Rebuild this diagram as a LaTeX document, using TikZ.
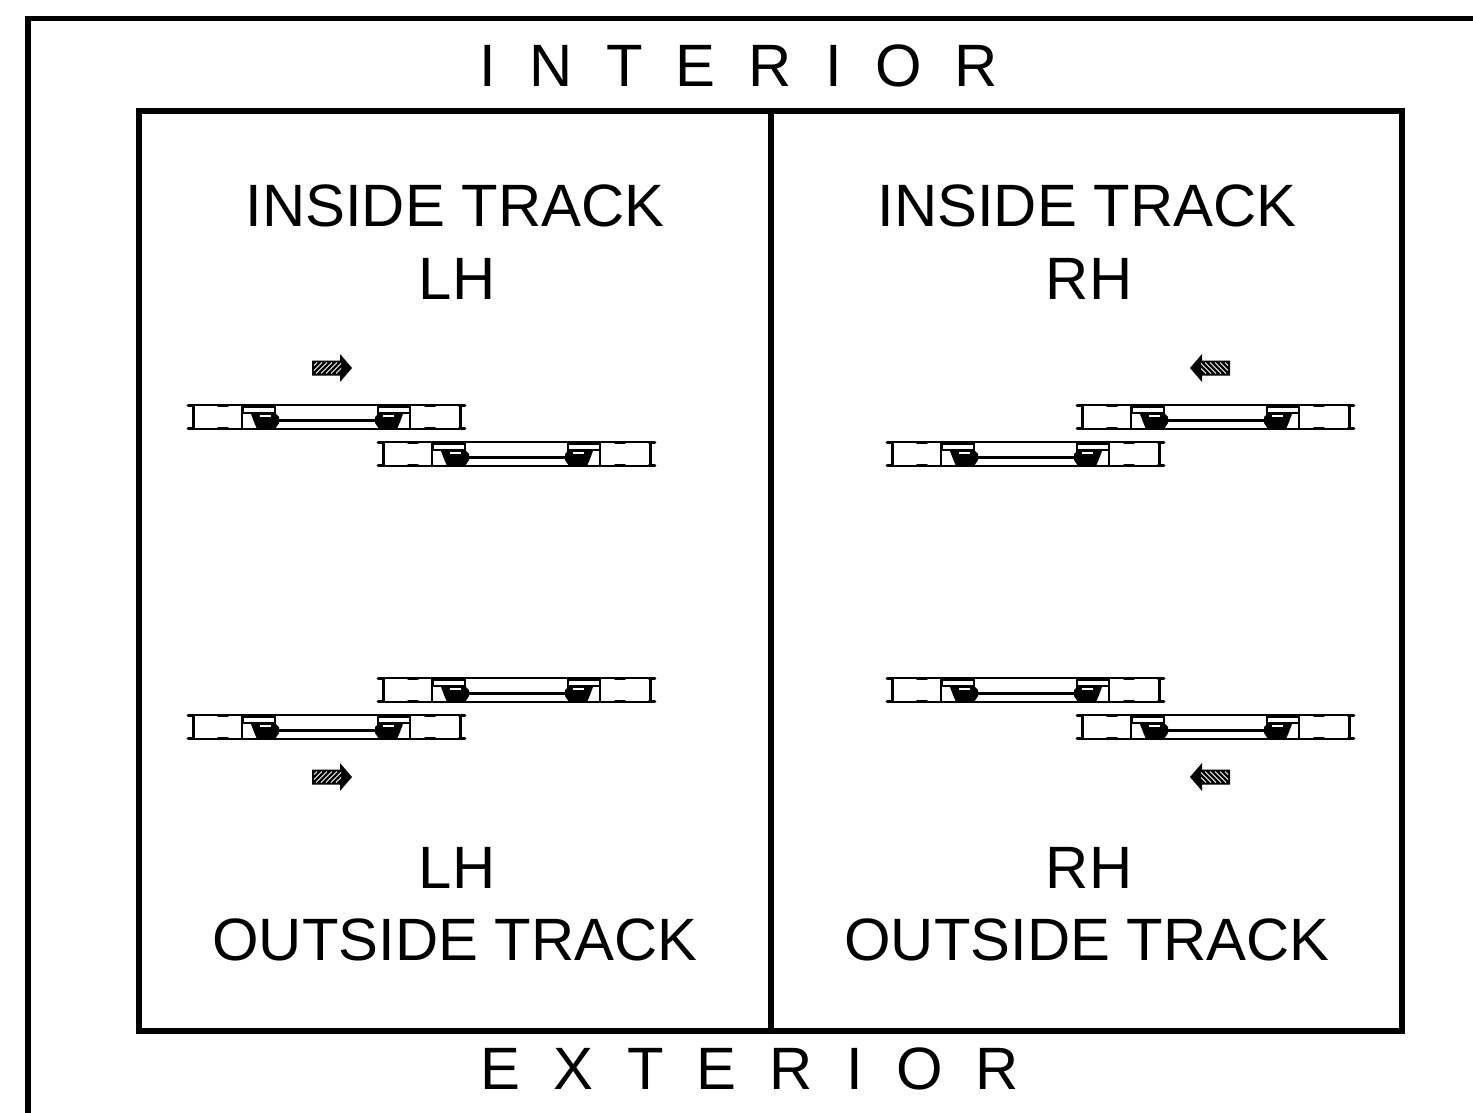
\documentclass[tikz,border=0pt]{standalone}
\usepackage{fontspec}
\setmainfont{Liberation Sans}
\tikzset{
frameline/.style={line width=2.8pt,line cap=rect},
label/.style={anchor=base,inner sep=0pt,font=\fontsize{29.9}{34}\selectfont},
panethin/.style={line width=.6pt},
panethick/.style={line width=.95pt},
pane/.pic={
  % flanges of the frame
  \draw[panethick] (0,0) -- (277,0) (0,24) -- (277,24);
  % the end webs and inner webs
  \draw[line width=1.5pt] (5,0) -- (5,24) (272,0) -- (272,24);
  \draw[line width=.9pt] (54,0) -- (54,24) (222,0) -- (222,24);
  \draw[line width=.9pt] (87,0) -- (87,10) (190,0) -- (190,10);
  % bumps on the flanges
  \foreach \bx/\blen in {0/6,30/10,237/10,271/6} {
    \draw[line width=1.4pt,line cap=round] (\bx,.4) -- ++(\blen,0) (\bx,23.6) -- ++(\blen,0);
  }
  % the small compartments
  \draw[panethin] (55,2) rectangle (87,8);
  \draw[panethin] (190,2) rectangle (222,8);
  % the rollers
  \foreach \rx/\dir in {63/1,215/-1} {
    \begin{scope}[shift={(\rx,0)},xscale=\dir]
      \fill (0,9) -- (24,8) -- (28,12) -- (28,18) -- (24,24) -- (6,24) -- (3,17) -- cycle;
      \fill[white] (9,10) rectangle (20,12);
    \end{scope}
  }
  % the glass between
  \draw[line width=1.5pt] (89,15) -- (188,15);
},
movearrow/.pic={
  \fill (-20,-7.5) -- (8,-7.5) -- (8,-14) -- (20,0) -- (8,14) -- (8,7.5) -- (-20,7.5) -- cycle;
  \begin{scope}
    \clip (-18,-5.5) rectangle (9,5.5);
    \foreach \hx in {-26,-21,...,8} {
      \draw[white,line width=.45pt] (\hx,5.5) -- ++(11,-11);
    }
  \end{scope}
},
}
\begin{document}
\begin{tikzpicture}[x=.5pt,y=-.5pt]
\useasboundingbox (0,0) rectangle (1473,1113);
% the frames
\draw[frameline] (1473,18.4) -- (27.8,18.4) -- (27.8,1113);
\draw[frameline] (139,111) rectangle (1402,1031);
\draw[frameline] (771,111) -- (771,1031);
% the texts
\node[label] (interior) at (739,87) {I\ \ N\ \ T\ \ E\ \ R\ \ I\ \ O\ \ R};
\node[label] (exterior) at (750,1089) {E\ \ X\ \ T\ \ E\ \ R\ \ I\ \ O\ \ R};
\node[label] (insideleft) at (455,227) {INSIDE TRACK};
\node[label] (lhtop) at (457,299) {LH};
\node[label] (insideright) at (1087,227) {INSIDE TRACK};
\node[label] (rhtop) at (1089,299) {RH};
\node[label] (lhbottom) at (457,888) {LH};
\node[label] (outsideleft) at (455,960) {OUTSIDE TRACK};
\node[label] (rhbottom) at (1089,888) {RH};
\node[label] (outsideright) at (1087,960) {OUTSIDE TRACK};
% the panes
\foreach \px/\py in {188/405,378/442,1077/405,887/442,378/678,188/715,887/678,1077/715} {
  \pic at (\px,\py) {pane};
}
% the arrows
\foreach \ay in {368,777} {
  \pic at (332,\ay) {movearrow};
  \pic[xscale=-1] at (1210,\ay) {movearrow};
}
\end{tikzpicture}
\end{document}
